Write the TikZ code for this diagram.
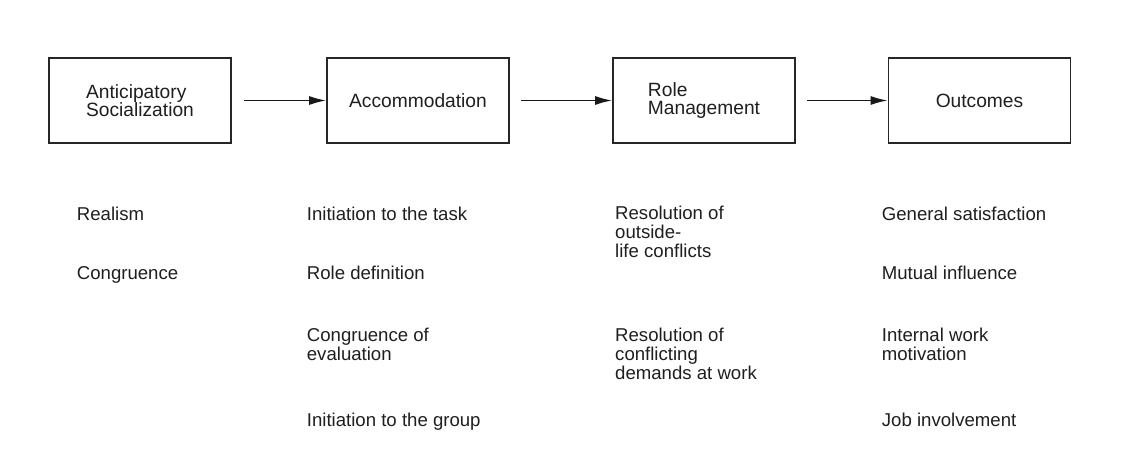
\documentclass[tikz,border=0pt]{standalone}
\usepackage{fontspec}
\setmainfont{Liberation Sans}
\usetikzlibrary{arrows.meta}
\begin{document}
\begin{tikzpicture}[x=1pt,y=-1pt,
  stage/.style={draw=black!85, line width=1.6pt, minimum width=182pt, minimum height=85pt,
    inner sep=0pt, align=left, text=black!88, font=\fontsize{19.2}{18.5}\selectfont},
  flow/.style={draw=black!90, line width=1.6pt, -{Latex[length=17pt,width=9pt]}},
  item/.style={anchor=base west, inner sep=0pt, align=left, text=black!88,
    font=\fontsize{18.6}{19}\selectfont}]
\useasboundingbox (0,0) rectangle (1135,452);
\fill[white] (0,0) rectangle (1135,452);

% stages of the process
\node[stage] (s1) at (140,100.5) {Anticipatory\\Socialization};
\node[stage] (s2) at (418,100.5) {Accommodation};
\node[stage] (s3) at (704,100.5) {Role\\Management};
\node[stage] (s4) at (979.5,100.5) {Outcomes};

\draw[flow] ([xshift=12pt]s1.east) -- (s2.west);
\draw[flow] ([xshift=11pt]s2.east) -- (s3.west);
\draw[flow] ([xshift=11pt]s3.east) -- (s4.west);

% variables under each stage (base anchor = baseline of the last line)
\node[item] (a1) at (76.7,220) {Realism};
\node[item] (a2) at (76.7,279) {Congruence};

\node[item] (b1) at (306.7,220) {Initiation to the task};
\node[item] (b2) at (306.7,279) {Role definition};
\node[item] (b3) at (306.7,360.7) {Congruence of\\evaluation};
\node[item] (b4) at (306.7,426.7) {Initiation to the group};

\node[item] (c1) at (615,257.3) {Resolution of\\outside-\\life conflicts};
\node[item] (c2) at (615,379) {Resolution of\\conflicting\\demands at work};

\node[item] (d1) at (881.7,220) {General satisfaction};
\node[item] (d2) at (881.7,279) {Mutual influence};
\node[item] (d3) at (881.7,360.7) {Internal work\\motivation};
\node[item] (d4) at (881.7,426.7) {Job involvement};
\end{tikzpicture}
\end{document}
